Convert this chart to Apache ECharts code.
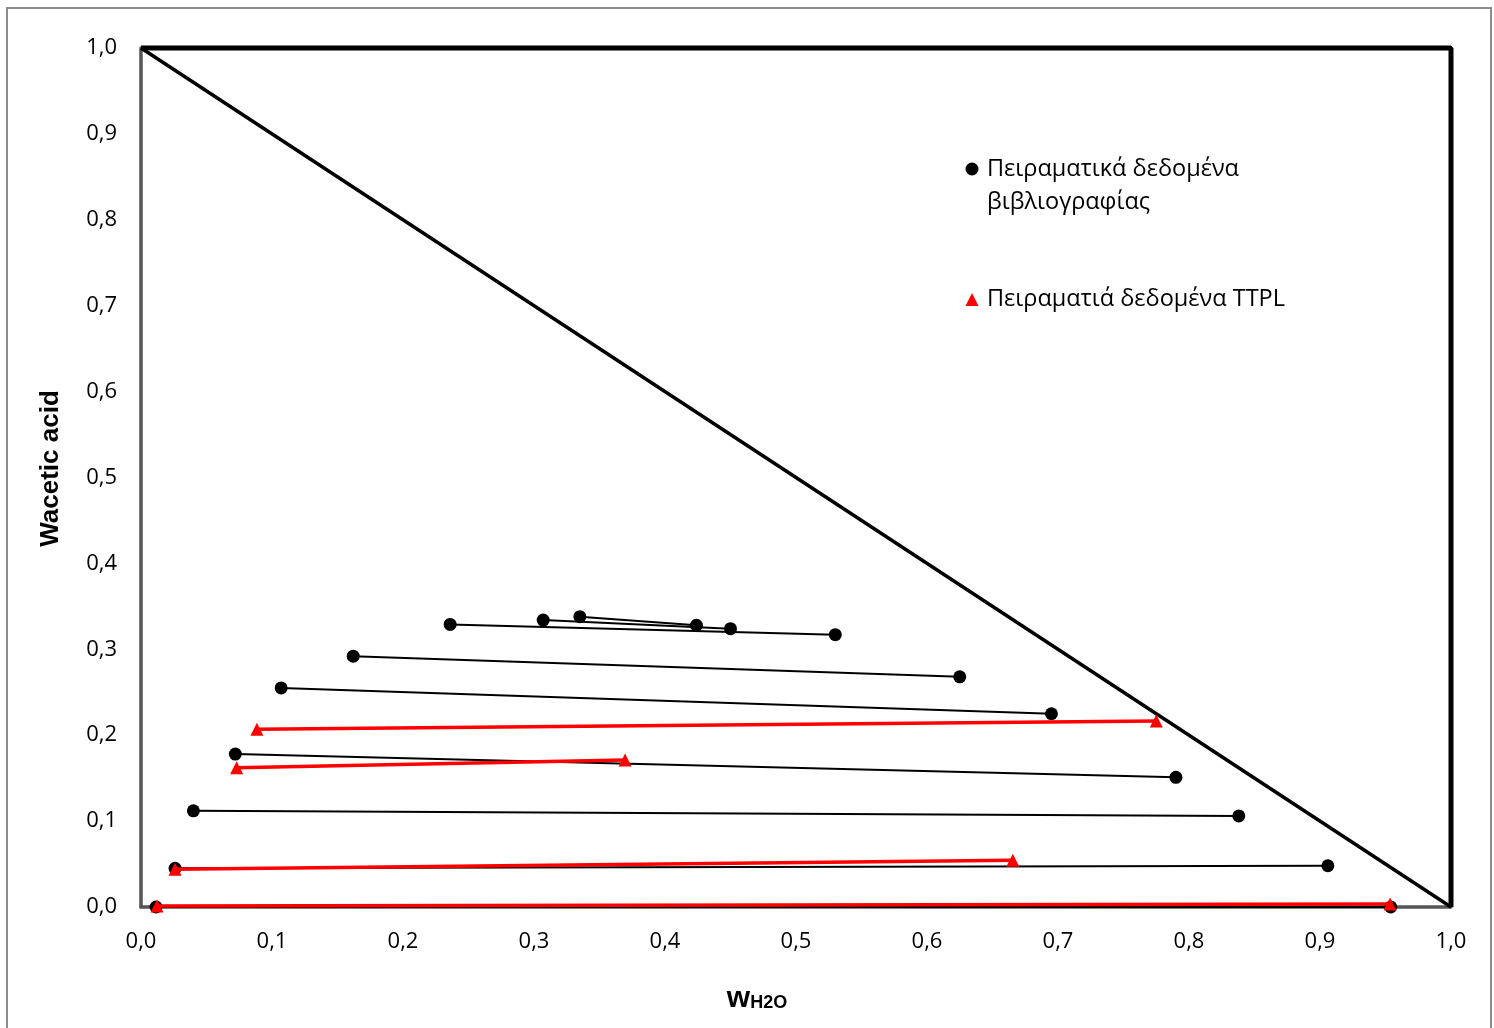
<!DOCTYPE html>
<html>
<head>
<meta charset="utf-8">
<script src="https://cdn.jsdelivr.net/npm/echarts@6/dist/echarts.min.js"></script>
<style>
  html, body { margin: 0; padding: 0; background: #fff; }
  #chart { width: 1494px; height: 1028px; }
</style>
</head>
<body>
<div id="chart"></div>
<script>
// Tie lines (w_H2O, w_acetic acid): left end and right end of each line
const litLeft = [
  [0.236, 0.329],
  [0.307, 0.334],
  [0.335, 0.338],
  [0.162, 0.292],
  [0.107, 0.255],
  [0.072, 0.178],
  [0.040, 0.112],
  [0.026, 0.045],
  [0.0115, 0.000]
];
const litRight = [
  [0.530, 0.317],
  [0.450, 0.324],
  [0.424, 0.328],
  [0.625, 0.268],
  [0.695, 0.225],
  [0.790, 0.151],
  [0.838, 0.106],
  [0.906, 0.048],
  [0.954, 0.000]
];
const ttplLeft = [
  [0.0885, 0.207],
  [0.073, 0.162],
  [0.026, 0.044],
  [0.0122, 0.0012]
];
const ttplRight = [
  [0.775, 0.2165],
  [0.3695, 0.171],
  [0.6655, 0.0545],
  [0.9535, 0.0035]
];
// Triangle diagram frame: hypotenuse and the top/right sides
const diagonal = [[0, 1], [1, 0]];
const frame = [[0, 1], [1, 1], [1, 0]];
const litName = 'Πειραματικά δεδομένα βιβλιογραφίας';
const ttplName = 'Πειραματιά δεδομένα TTPL';
const legendLines = [['Πειραματικά δεδομένα', 'βιβλιογραφίας'], ['Πειραματιά δεδομένα TTPL']];

const FONT = '"Open Sans", "Noto Sans", sans-serif';
const fmt = v => v.toFixed(1).replace('.', ',');

const series = [];
series.push({
  type: 'line', data: frame, symbol: 'none', silent: true, clip: false, z: 1,
  lineStyle: { color: '#000', width: 5 }
});
series.push({
  type: 'line', data: diagonal, symbol: 'none', silent: true, clip: false, z: 1,
  lineStyle: { color: '#000', width: 3.5 }
});
litLeft.forEach((p, i) => {
  series.push({
    name: litName, type: 'line', data: [p, litRight[i]],
    symbol: 'circle', symbolSize: 13, clip: false, z: 3,
    itemStyle: { color: '#000' },
    lineStyle: { color: '#000', width: 2 }
  });
});
ttplLeft.forEach((p, i) => {
  series.push({
    name: ttplName, type: 'line', data: [p, ttplRight[i]],
    symbol: 'triangle', symbolSize: 13, clip: false, z: 4,
    itemStyle: { color: '#ff0000' },
    lineStyle: { color: '#ff0000', width: 3.5 }
  });
});

const chart = echarts.init(document.getElementById('chart'));
chart.setOption({
  animation: false,
  backgroundColor: '#fff',
  grid: { left: 141, right: 43, top: 48, bottom: 121, containLabel: false },
  xAxis: {
    type: 'value', min: 0, max: 1, interval: 0.1,
    axisLine: { show: true, onZero: false, lineStyle: { color: '#555', width: 3.5 } },
    axisTick: { show: false },
    splitLine: { show: false },
    axisLabel: { formatter: fmt, color: '#000', fontFamily: FONT, fontSize: 22, margin: 24 },
    name: '{w|w}{s|H2O}',
    nameLocation: 'middle', nameGap: 77,
    nameTextStyle: {
      padding: [0, 78, 0, 0],
      rich: {
        w: { fontFamily: '"Liberation Sans", Arial, sans-serif', fontWeight: 'bold', fontSize: 30, color: '#000' },
        s: { fontFamily: '"Liberation Sans", Arial, sans-serif', fontWeight: 'bold', fontSize: 18, color: '#000', padding: [8, 0, 0, 0] }
      }
    }
  },
  yAxis: {
    type: 'value', min: 0, max: 1, interval: 0.1,
    axisLine: { show: true, onZero: false, lineStyle: { color: '#555', width: 3.5 } },
    axisTick: { show: false },
    splitLine: { show: false },
    axisLabel: { formatter: fmt, color: '#000', fontFamily: FONT, fontSize: 22, margin: 24 },
    name: 'Wacetic acid',
    nameLocation: 'middle', nameGap: 77,
    nameTextStyle: { padding: [0, 0, 0, 18], fontFamily: '"Liberation Sans", Arial, sans-serif', fontWeight: 'bold', fontSize: 26, color: '#000' }
  },
  graphic: [
    { type: 'rect', shape: { x: 7, y: 8, width: 1484, height: 1040 }, style: { fill: 'none', stroke: '#8c8c8c', lineWidth: 2 }, silent: true, z: -10 },
    { type: 'circle', shape: { cx: 972, cy: 169, r: 6.5 }, style: { fill: '#000' } },
    { type: 'text', left: 987, top: 153, style: { text: legendLines[0].join('\n'), font: '23.5px ' + FONT, lineHeight: 33, fill: '#000' } },
    { type: 'polygon', shape: { points: [[972, 293], [978.5, 306], [965.5, 306]] }, style: { fill: '#ff0000' } },
    { type: 'text', left: 987, top: 287, style: { text: legendLines[1].join('\n'), font: '23.5px ' + FONT, fill: '#000' } }
  ],
  series
});
</script>
</body>
</html>
